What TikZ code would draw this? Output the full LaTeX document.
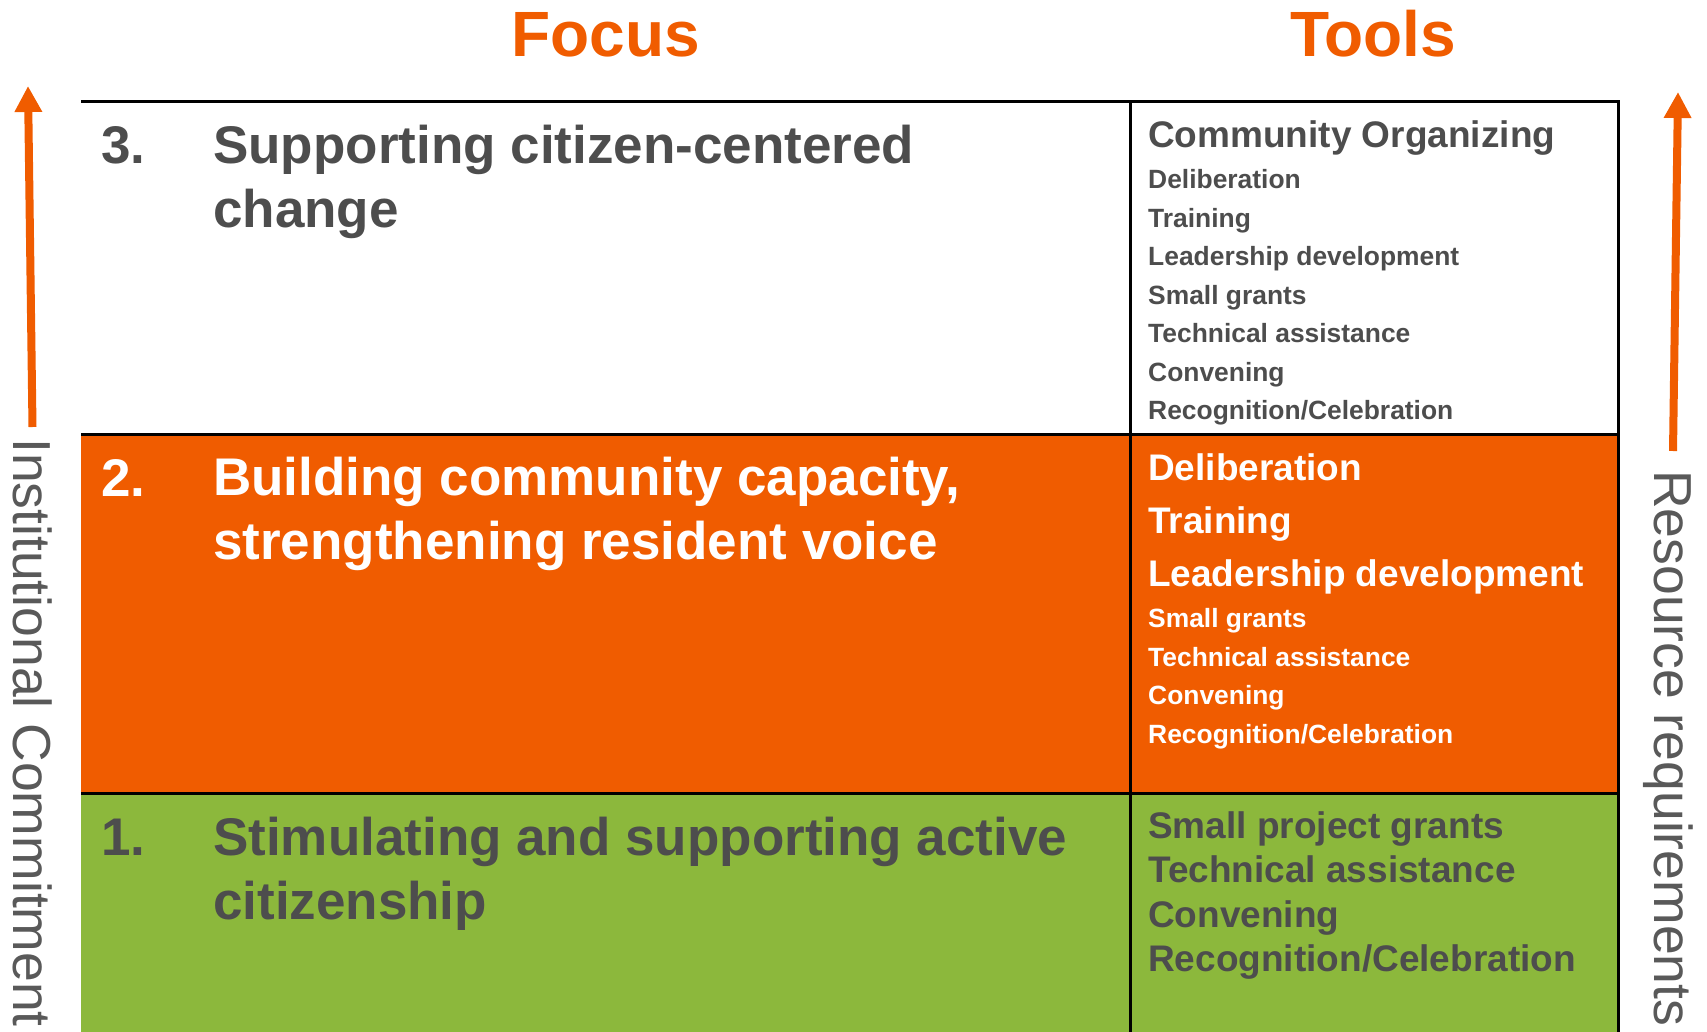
\documentclass[tikz,border=0pt]{standalone}
\usepackage{fontspec}
\setmainfont{Liberation Sans}
\usetikzlibrary{arrows.meta}
\definecolor{planorange}{RGB}{240,92,0}
\definecolor{plangreen}{RGB}{140,184,60}
\definecolor{plangray}{RGB}{77,77,77}
\definecolor{sidegray}{RGB}{89,89,89}

\begin{document}
\begin{tikzpicture}[x=1pt,y=-1pt,
		colhead/.style={anchor=base,inner sep=0pt,text=planorange,font=\fontsize{64}{77}\selectfont\bfseries},
		rowtext/.style={anchor=base west,inner sep=0pt,align=left,font=\fontsize{53}{64}\selectfont\bfseries},
		toolbig/.style={anchor=base west,inner sep=0pt,font=\fontsize{37}{44}\selectfont\bfseries},
		toolsmall/.style={anchor=base west,inner sep=0pt,font=\fontsize{26.4}{32}\selectfont\bfseries},
		sidelabel/.style={anchor=base west,inner sep=0pt,rotate=-90,text=sidegray,font=\fontsize{53.5}{64}\selectfont},
		riser/.style={draw=planorange,line width=8pt,-{Triangle[width=26pt,length=26pt]}}]
		\useasboundingbox (0,0) rectangle (1707,1032);
		
		% row colours
		\fill[planorange] (81,434) rectangle (1618,793);
		\fill[plangreen] (81,793) rectangle (1618,1032);
		
		% grid lines
		\draw[line width=3pt] (81,102) -- (1618,102) -- (1618,1032);
		\draw[line width=3pt] (81,434) -- (1618,434);
		\draw[line width=3pt] (81,793) -- (1618,793);
		\draw[line width=3pt] (1130,102) -- (1130,1032);
		
		% column heads
		\node[colhead] (focus) at (606,57) {Focus};
		\node[colhead] (tools) at (1373,57) {Tools};
		
		% focus column (base = last line)
		\node[rowtext,text=plangray] (num3) at (101,164) {3.};
		\node[rowtext,text=plangray] (focus3) at (213,228) {Supporting citizen-centered\\change};
		\node[rowtext,text=white] (num2) at (101,496) {2.};
		\node[rowtext,text=white] (focus2) at (213,559) {Building community capacity,\\strengthening resident voice};
		\node[rowtext,text=plangray] (num1) at (101,855) {1.};
		\node[rowtext,text=plangray] (focus1) at (213,919) {Stimulating and supporting active\\citizenship};
		
		% tools column
		\node[toolbig,text=plangray] (organize) at (1148,148) {Community Organizing};
		\foreach \tool [count=\i from 0] in {Deliberation,Training,Leadership development,Small grants,Technical assistance,Convening,Recognition/Celebration}
			\node[toolsmall,text=plangray] (tool3-\i) at (1148,189+38.4*\i) {\tool};
		\foreach \tool [count=\i from 0] in {Deliberation,Training,Leadership development}
			\node[toolbig,text=white] (tool2a-\i) at (1148,480+53.2*\i) {\tool};
		\foreach \tool [count=\i from 0] in {Small grants,Technical assistance,Convening,Recognition/Celebration}
			\node[toolsmall,text=white] (tool2b-\i) at (1148,627.5+38.5*\i) {\tool};
		\foreach \tool [count=\i from 0] in {Small project grants,Technical assistance,Convening,Recognition/Celebration}
			\node[toolbig,text=plangray] (tool1-\i) at (1148,838+44.6*\i) {\tool};
		
		% side arrows and labels
		\coordinate (cmtfoot) at (32.5,427);
		\coordinate (cmttip) at (28,86);
		\draw[riser] (cmtfoot) -- (cmttip);
		\node[sidelabel] (commitment) at (13,438) {Institutional Commitment};
		
		\coordinate (resfoot) at (1673,451);
		\coordinate (restip) at (1678,92);
		\draw[riser] (resfoot) -- (restip);
		\node[sidelabel] (resources) at (1654,470) {Resource requirements};
	\end{tikzpicture}
\end{document}
